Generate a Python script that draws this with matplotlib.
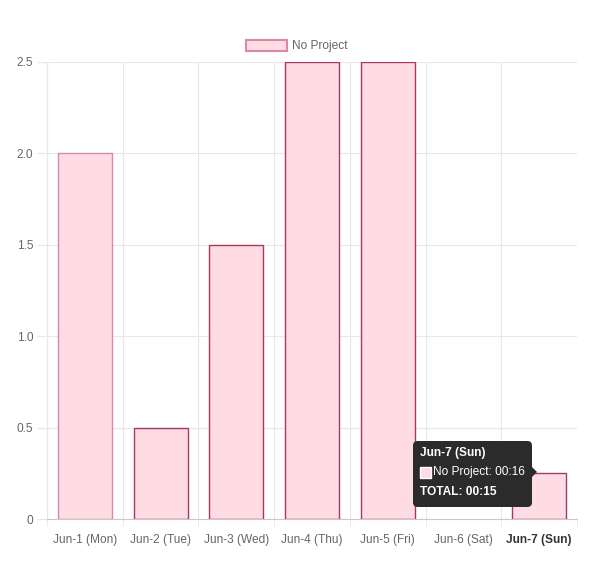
import matplotlib
matplotlib.use("Agg")
import matplotlib.pyplot as plt
from matplotlib.patches import Rectangle, FancyBboxPatch, Polygon

# Datos del gráfico
days = ['Jun-1 (Mon)', 'Jun-2 (Tue)', 'Jun-3 (Wed)', 'Jun-4 (Thu)',
        'Jun-5 (Fri)', 'Jun-6 (Sat)', 'Jun-7 (Sun)']
hours = [2.0, 0.5, 1.5, 2.5, 2.5, 0.0, 0.25]
y_ticks = [0, 0.5, 1.0, 1.5, 2.0, 2.5]
y_tick_labels = ['0', '0.5', '1.0', '1.5', '2.0', '2.5']
series_name = 'No Project'

W, H = 593, 562
plt.rcParams['font.family'] = ['Liberation Sans', 'DejaVu Sans']

fig = plt.figure(figsize=(W / 100, H / 100), dpi=100)
ax = fig.add_axes([47 / W, 1 - 519 / H, 530 / W, 457 / H])

fill = '#ffdce3'
edges = ['#d98aa4'] + ['#a8385d'] * 6
# una barra en cero no dibuja borde
edges = [c if v > 0 else 'none' for c, v in zip(edges, hours)]

x = list(range(len(days)))
ax.bar(x, hours, width=0.715, color=fill, edgecolor=edges, linewidth=1.0, zorder=3)

ax.set_xlim(-0.5, len(days) - 0.5)
ax.set_ylim(0, 2.5)

# Rejilla
grid_c = '#e8e8e8'
ax.set_xticks([i - 0.5 for i in range(len(days) + 1)], minor=True)
ax.set_xticks(x)
ax.set_xticklabels(days)
ax.set_yticks(y_ticks)
ax.set_yticklabels(y_tick_labels)
ax.grid(True, which='minor', axis='x', color=grid_c, linewidth=0.8, zorder=0)
ax.grid(True, which='major', axis='y', color=grid_c, linewidth=0.8, zorder=0)
ax.tick_params(axis='x', which='major', length=0, pad=11, labelsize=8.6, labelcolor='#666666')
ax.tick_params(axis='x', which='minor', length=5, color=grid_c)
ax.tick_params(axis='y', length=7, color=grid_c, pad=3, labelsize=8.6, labelcolor='#666666')
for s in ['top', 'right']:
    ax.spines[s].set_visible(False)
ax.spines['left'].set_color(grid_c)
ax.spines['bottom'].set_color('#c8c8c8')
lbl = ax.get_xticklabels()[-1]
lbl.set_fontweight('bold')
lbl.set_color('#333333')

# Leyenda
def fx(px):
    return px / W

def fy(py):
    return 1 - py / H

fig.add_artist(Rectangle((fx(246), fy(51)), 41 / W, 11 / H, transform=fig.transFigure,
                         facecolor=fill, edgecolor='#d98aa4', linewidth=1.5))
fig.text(fx(292), fy(45.5), series_name, fontsize=8.6, color='#666666', va='center', ha='left')

# Tooltip
tip_c = '#2b2b2b'
fig.add_artist(FancyBboxPatch((fx(413), fy(507)), 119 / W, 66 / H, transform=fig.transFigure,
                              boxstyle='round,pad=0,rounding_size=0.008',
                              facecolor=tip_c, edgecolor='none', zorder=10))
fig.add_artist(Polygon([(fx(531), fy(466)), (fx(537), fy(472)), (fx(531), fy(478))],
                       closed=True, transform=fig.transFigure, facecolor=tip_c,
                       edgecolor='none', zorder=10))
fig.text(fx(420), fy(453), 'Jun-7 (Sun)', fontsize=8.6, color='white', fontweight='bold',
         va='center', ha='left', zorder=11)
fig.add_artist(Rectangle((fx(420), fy(478)), 11 / W, 11 / H, transform=fig.transFigure,
                         facecolor=fill, edgecolor='white', linewidth=1, zorder=11))
fig.text(fx(433), fy(472.5), series_name + ': 00:16', fontsize=8.6, color='white',
         va='center', ha='left', zorder=11)
fig.text(fx(420), fy(492), 'TOTAL: 00:15', fontsize=8.6, color='white', fontweight='bold',
         va='center', ha='left', zorder=11)

fig.savefig('out.png', dpi=100)
